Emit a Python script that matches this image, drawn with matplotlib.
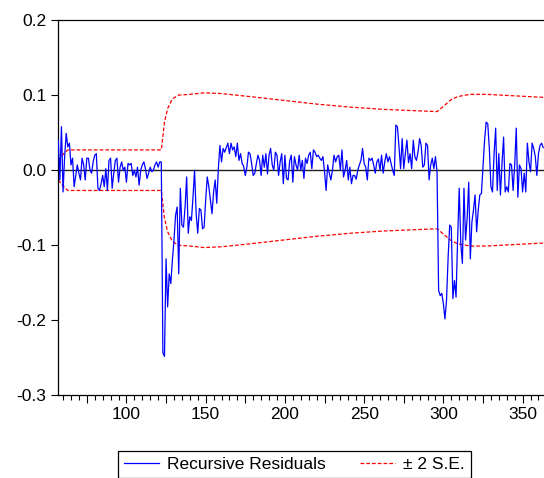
#recursive residuals chart
import matplotlib
matplotlib.use('Agg')
import matplotlib.pyplot as plt
from matplotlib.ticker import MultipleLocator
import numpy as np

plt.rcParams['font.family'] = ['Liberation Sans', 'DejaVu Sans']

first_obs = 57

#residuals in pieces
resid_start = [0.040, -0.013, 0.058, -0.029, 0.018, 0.049, 0.031, 0.036, 0.007, 0.016,
               -0.022, -0.007, 0.007, -0.004, -0.013, 0.016, 0.007, -0.013, 0.016, 0.016,
               0.000, -0.004, 0.011, 0.020, 0.022, -0.024, -0.027, -0.018, -0.007,
               -0.022, 0.002, -0.027, 0.013, 0.016, -0.024, -0.004, 0.013, 0.016, -0.016,
               0.004, 0.011, 0.000, 0.004, -0.016, 0.009, 0.007, 0.009, -0.007,
               0.000, -0.009, 0.004, -0.020, 0.000, 0.007, 0.011, 0.002, -0.011, -0.004,
               0.004, -0.002, 0.000, 0.007, 0.011, 0.004, 0.011, 0.011]
resid_break1 = [-0.243, -0.248, -0.118, -0.182, -0.138, -0.151, -0.120, -0.093, -0.060, -0.049,
                -0.138, -0.024, -0.073, -0.076, -0.049, -0.009, -0.084, -0.062, -0.067, -0.036,
                0.000, -0.058, -0.084, -0.051, -0.053, -0.078, -0.076, -0.040, -0.009, -0.022,
                -0.040, -0.058, -0.029, -0.013, -0.044, 0.002, 0.033, 0.011, 0.029, 0.024,
                0.030, 0.036, 0.022]
resid_middle = [0.036, 0.027, 0.031, 0.018, 0.036, 0.013, 0.022, 0.009, 0.005, -0.007, 0.004,
                0.024, 0.022, 0.009, -0.007, -0.004, 0.009, 0.020, 0.013, -0.007, 0.020,
                0.004, 0.022, -0.005, 0.020, 0.029, 0.007, 0.000, 0.024, 0.020, -0.007, 0.011,
                0.022, -0.018, 0.020, -0.011, -0.013, 0.012, 0.020, -0.016, 0.018, 0.007, 0.000,
                0.020, 0.000, 0.013, -0.011, 0.016, 0.009, 0.020, 0.024, 0.002, 0.027, 0.024,
                0.018, 0.020, 0.016, 0.013, 0.018, -0.002, -0.027, 0.007, -0.004, -0.013,
                0.000, 0.020, 0.011, 0.018, 0.020, 0.000, 0.027, -0.009, 0.000, 0.013, -0.013,
                0.004, -0.018, -0.007, -0.007, -0.012, 0.000, 0.007, 0.013, 0.029, 0.009, 0.004,
                -0.013, 0.016, 0.013, 0.016, 0.007, -0.004, 0.011, 0.015, 0.000, 0.020, -0.004,
                0.011, 0.022, 0.011, 0.018, 0.009, 0.000, -0.007, 0.060, 0.058, 0.031,
                0.002, 0.042, 0.002, 0.022, 0.040, 0.010, 0.022, 0.002, 0.040, 0.018, 0.013,
                0.024, 0.042, 0.033, 0.004]
resid_end = [0.007, 0.036, 0.033, -0.013, 0.007, 0.016, 0.002, 0.018, -0.002,
             -0.160, -0.167, -0.164, -0.178, -0.198, -0.173, -0.116, -0.073, -0.076, -0.171,
             -0.147, -0.169, -0.091, -0.024, -0.098, -0.124, -0.024, -0.093, -0.064, -0.016,
             -0.118, -0.069, -0.053, -0.033, -0.082, -0.053, -0.033, -0.031,
             0.004, 0.040, 0.064, 0.062, 0.029, -0.022, -0.029, 0.022, 0.056, -0.027,
             0.022, -0.033, 0.009, 0.044, -0.029, -0.022, -0.029, 0.009, 0.007, -0.027,
             0.007, 0.056, -0.036, 0.007, 0.002, -0.029, -0.004, -0.029, 0.036,
             0.011, -0.002, 0.036, 0.029, 0.018, -0.007, 0.022, 0.033, 0.036, 0.030]

#standard error band (2 s.e.), read at a few observations
se_obs = [57, 60, 63, 87, 122, 123, 124, 126, 129, 133, 140, 149, 160, 169, 178,
          220, 241, 262, 296, 300, 305, 309, 317, 327, 363]
se_val = [0.013, 0.021, 0.027, 0.027, 0.027, 0.045, 0.064, 0.082, 0.095, 0.100, 0.101,
          0.103, 0.102, 0.100, 0.098, 0.088, 0.084, 0.081, 0.078, 0.085, 0.094, 0.098,
          0.101, 0.101, 0.097]

resid = np.array(resid_start + resid_break1 + resid_middle + resid_end)
obs = np.arange(first_obs, first_obs + len(resid))
se_obs = np.array(se_obs)
se_val = np.array(se_val)

fig = plt.figure(figsize=(5.44, 4.78), dpi=100)
ax = fig.add_axes([0.1057, 0.1726, 0.8943, 0.7856])

ax.axhline(0, color='#202020', lw=1.0, zorder=1)
line1, = ax.plot(obs, resid, color='#0000FF', lw=0.9, zorder=3)
line2, = ax.plot(se_obs, se_val, color='#FF0000', lw=0.9, dashes=(3, 1.6), zorder=2)
ax.plot(se_obs, -se_val, color='#FF0000', lw=0.9, dashes=(3, 1.6), zorder=2)

ax.set_xlim(56.5, 363.5)
ax.set_ylim(-0.3, 0.2)
ax.set_yticks([-0.3, -0.2, -0.1, 0.0, 0.1, 0.2])
ax.set_yticklabels(['-0.3', '-0.2', '-0.1', '0.0', '0.1', '0.2'])
ax.xaxis.set_major_locator(MultipleLocator(25))
ax.xaxis.set_minor_locator(MultipleLocator(5))
ax.set_xticklabels(['' if t % 50 else str(int(t)) for t in ax.get_xticks()])

ax.spines['right'].set_visible(False)
for s in ['left', 'top', 'bottom']:
    ax.spines[s].set_linewidth(0.9)
    ax.spines[s].set_color('black')
ax.tick_params(axis='y', direction='out', length=5, width=0.8, labelsize=12.5, pad=3)
ax.tick_params(axis='x', which='major', direction='out', length=6, width=0.8,
               labelsize=12.5, pad=2)
ax.tick_params(axis='x', which='minor', direction='out', length=3.5, width=0.8)

leg = fig.legend([line1, line2], ['Recursive Residuals', '\u00b1 2 S.E.'],
                 loc='lower center', bbox_to_anchor=(0.541, 0.0), ncol=2,
                 fontsize=12.5, fancybox=False, edgecolor='black', framealpha=1,
                 borderaxespad=0, handlelength=2.0, handletextpad=0.45,
                 columnspacing=2.0, borderpad=0.35)
leg.get_frame().set_linewidth(0.9)

fig.savefig('out.png', dpi=100)
